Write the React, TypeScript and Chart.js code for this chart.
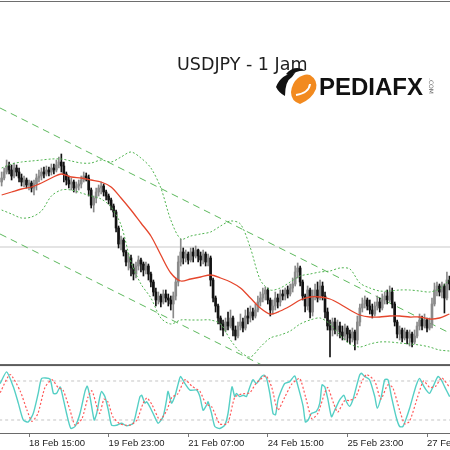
import React, { useEffect, useRef } from 'react';
import { Chart, registerables } from 'chart.js';
Chart.register(...registerables);

// ---------- DATA ----------
const firstOpen = 152.18;
const closes = [
  152.22, 152.28, 152.34, 152.30, 152.24, 152.32, 152.28, 152.22, 152.18, 152.20,
  152.15, 152.17, 152.12, 152.16, 152.22, 152.24, 152.28, 152.26, 152.30, 152.28,
  152.32, 152.30, 152.35, 152.38, 152.34, 152.26, 152.20, 152.16, 152.18, 152.12,
  152.14, 152.16, 152.20, 152.24, 152.22, 152.10, 151.95, 152.02, 152.08, 152.12,
  152.14, 152.08, 152.04, 152.00, 151.94, 151.88, 151.72, 151.56, 151.60, 151.48,
  151.38, 151.42, 151.32, 151.26, 151.34, 151.40, 151.36, 151.30, 151.34, 151.26,
  151.18, 151.08, 151.00, 151.04, 150.98, 151.06, 151.02, 151.00, 150.96, 151.04,
  151.18, 151.38, 151.48, 151.42, 151.46, 151.40, 151.48, 151.44, 151.50, 151.44,
  151.40, 151.46, 151.38, 151.42, 151.20, 151.02, 150.94, 150.82, 150.76, 150.70,
  150.78, 150.74, 150.82, 150.70, 150.64, 150.74, 150.78, 150.72, 150.84, 150.82,
  150.88, 150.84, 150.90, 150.98, 151.02, 151.06, 151.10, 151.00, 150.90, 150.94,
  151.02, 150.98, 151.06, 151.04, 151.10, 151.06, 151.12, 151.16, 151.28, 151.32,
  151.18, 151.04, 150.94, 151.10, 150.88, 151.04, 151.10, 151.02, 151.14, 151.04,
  150.88, 150.74, 150.70, 150.78, 150.70, 150.74, 150.68, 150.64, 150.72, 150.66,
  150.62, 150.68, 150.60, 150.78, 150.92, 150.96, 151.00, 150.94, 150.90, 150.86,
  150.94, 150.98, 150.92, 151.00, 151.04, 151.00, 151.08, 150.96, 150.78, 150.66,
  150.70, 150.62, 150.68, 150.62, 150.66, 150.58, 150.64, 150.74, 150.80, 150.74,
  150.80, 150.72, 150.76, 150.96, 151.10, 151.14, 151.08, 151.14, 151.02, 151.20,
  151.16,
];
const highs = [
  152.28, 152.32, 152.40, 152.38, 152.35, 152.37, 152.35, 152.32, 152.26, 152.24,
  152.22, 152.20, 152.19, 152.20, 152.26, 152.30, 152.32, 152.33, 152.34, 152.33,
  152.36, 152.36, 152.40, 152.43, 152.46, 152.38, 152.28, 152.24, 152.22, 152.20,
  152.18, 152.20, 152.24, 152.28, 152.27, 152.25, 152.12, 152.04, 152.12, 152.15,
  152.18, 152.16, 152.10, 152.06, 152.02, 151.96, 151.90, 151.74, 151.64, 151.62,
  151.50, 151.46, 151.45, 151.36, 151.38, 151.44, 151.42, 151.38, 151.38, 151.36,
  151.28, 151.20, 151.12, 151.08, 151.06, 151.10, 151.10, 151.06, 151.04, 151.08,
  151.22, 151.44, 151.61, 151.52, 151.50, 151.48, 151.52, 151.52, 151.54, 151.51,
  151.48, 151.50, 151.48, 151.46, 151.44, 151.22, 151.04, 150.96, 150.84, 150.80,
  150.82, 150.88, 150.90, 150.84, 150.74, 150.78, 150.86, 150.82, 150.90, 150.92,
  150.94, 150.92, 150.96, 151.04, 151.08, 151.12, 151.13, 151.12, 151.02, 151.00,
  151.08, 151.06, 151.10, 151.10, 151.12, 151.14, 151.16, 151.22, 151.34, 151.37,
  151.34, 151.20, 151.06, 151.14, 151.12, 151.10, 151.16, 151.18, 151.20, 151.18,
  151.08, 150.92, 150.80, 150.82, 150.82, 150.80, 150.78, 150.74, 150.76, 150.74,
  150.70, 150.72, 150.70, 150.84, 150.96, 151.02, 151.04, 151.02, 151.00, 150.96,
  150.98, 151.04, 151.02, 151.06, 151.08, 151.10, 151.14, 151.12, 150.98, 150.80,
  150.74, 150.72, 150.72, 150.70, 150.70, 150.68, 150.70, 150.78, 150.86, 150.84,
  150.86, 150.82, 150.82, 151.02, 151.17, 151.18, 151.16, 151.18, 151.16, 151.28,
  151.24,
];
const lows = [
  152.14, 152.20, 152.26, 152.26, 152.20, 152.22, 152.24, 152.18, 152.14, 152.13,
  152.12, 152.10, 152.08, 152.05, 152.10, 152.18, 152.20, 152.22, 152.24, 152.24,
  152.25, 152.26, 152.28, 152.32, 152.28, 152.18, 152.15, 152.12, 152.10, 152.08,
  152.07, 152.10, 152.12, 152.18, 152.19, 152.04, 151.92, 151.88, 151.97, 152.04,
  152.06, 152.04, 152.00, 151.96, 151.90, 151.83, 151.68, 151.52, 151.50, 151.44,
  151.34, 151.30, 151.24, 151.20, 151.22, 151.30, 151.28, 151.24, 151.26, 151.20,
  151.13, 151.04, 150.94, 150.96, 150.93, 150.96, 150.98, 150.94, 150.90, 150.82,
  151.00, 151.14, 151.34, 151.36, 151.38, 151.36, 151.38, 151.38, 151.42, 151.38,
  151.34, 151.36, 151.34, 151.34, 151.14, 150.98, 150.88, 150.76, 150.70, 150.64,
  150.68, 150.70, 150.72, 150.64, 150.60, 150.62, 150.70, 150.68, 150.70, 150.76,
  150.78, 150.80, 150.82, 150.88, 150.94, 150.98, 151.00, 150.96, 150.84, 150.86,
  150.90, 150.92, 150.94, 151.00, 151.00, 151.02, 151.04, 151.08, 151.14, 151.22,
  151.14, 151.00, 150.88, 150.90, 150.82, 150.84, 151.00, 150.98, 151.00, 151.00,
  150.82, 150.70, 150.43, 150.64, 150.66, 150.64, 150.62, 150.60, 150.60, 150.58,
  150.56, 150.58, 150.50, 150.56, 150.74, 150.88, 150.92, 150.90, 150.86, 150.82,
  150.84, 150.90, 150.88, 150.90, 150.96, 150.96, 150.98, 150.92, 150.74, 150.62,
  150.60, 150.58, 150.60, 150.56, 150.54, 150.53, 150.56, 150.62, 150.70, 150.70,
  150.72, 150.68, 150.70, 150.72, 150.94, 151.04, 151.04, 151.02, 150.87, 151.00,
  151.10,
];

// indicator sample positions (bar index) and values
const bandBars = [
  0, 4, 8, 12, 16, 20, 24, 28, 32, 36, 40, 44, 48, 52, 56, 60, 64, 68, 72, 76, 80, 84, 88,
  92, 96, 100, 104, 108, 112, 116, 120, 124, 128, 132, 136, 140, 144, 148, 152, 156, 160,
  164, 168, 172, 176, 180,
];
const maValues = [
  152.05, 152.08, 152.11, 152.13, 152.17, 152.22, 152.26, 152.23, 152.22, 152.20,
  152.18, 152.13, 152.02, 151.90, 151.77, 151.64, 151.45, 151.27, 151.19, 151.21,
  151.23, 151.25, 151.22, 151.18, 151.12, 151.02, 150.92, 150.86, 150.89, 150.94,
  151.00, 151.03, 151.03, 151.01, 150.96, 150.90, 150.85, 150.83, 150.83, 150.84,
  150.84, 150.83, 150.83, 150.81, 150.82, 150.86,
];
const bbUpper = [
  152.32, 152.36, 152.38, 152.39, 152.40, 152.41, 152.41, 152.39, 152.37, 152.37,
  152.40, 152.38, 152.43, 152.48, 152.42, 152.32, 152.12, 151.80, 151.61, 151.64,
  151.66, 151.68, 151.74, 151.79, 151.76, 151.52, 151.20, 151.10, 151.12, 151.18,
  151.24, 151.26, 151.28, 151.29, 151.32, 151.31, 151.17, 151.12, 151.09, 151.09,
  151.10, 151.10, 151.09, 151.08, 151.11, 151.20,
];
const bbLower = [
  151.90, 151.86, 151.82, 151.83, 151.89, 152.04, 152.10, 152.10, 152.07, 152.04,
  152.01, 151.93, 151.75, 151.38, 151.16, 151.02, 150.82, 150.76, 150.80, 150.80,
  150.80, 150.80, 150.76, 150.60, 150.48, 150.43, 150.53, 150.62, 150.65, 150.69,
  150.76, 150.80, 150.82, 150.76, 150.65, 150.56, 150.53, 150.56, 150.58, 150.58,
  150.57, 150.56, 150.55, 150.53, 150.50, 150.49,
];
const channelBars = [-0.64, 180.1];
const channelUpper = [152.92, 150.67];
const channelLower = [151.66, 149.41];
const levelPrice = 151.53;

const stochKBars = [
  -0.6, 2.0, 4.7, 6.7, 8.7, 10.7, 12.7, 14.7, 16.1, 19.4,
  20.8, 22.1, 23.5, 24.1, 26.1, 27.8, 29.5, 31.5, 33.5, 34.4,
  35.5, 37.2, 38.2, 39.5, 40.2, 41.5, 42.9, 44.2, 46.2, 48.2,
  50.2, 52.9, 54.3, 55.6, 56.3, 57.6, 58.3, 59.6, 60.9, 62.9,
  64.9, 66.3, 66.9, 68.3, 69.6, 71.0, 71.9, 73.7, 75.7, 78.4,
  79.7, 81.0, 82.4, 83.0, 84.4, 85.7, 87.7, 89.7, 91.0, 92.6,
  93.7, 94.4, 95.7, 97.1, 98.4, 99.8, 101.1, 102.4, 104.5, 105.5,
  106.5, 107.8, 109.1, 110.1, 111.1, 112.5, 113.8, 115.8, 117.8, 119.2,
  121.2, 122.1, 123.2, 124.5, 126.5, 127.9, 128.8, 129.9, 131.2, 132.6,
  133.9, 135.9, 137.6, 138.6, 139.9, 141.2, 142.6, 143.9, 144.6, 145.9,
  147.9, 150.0, 151.0, 152.6, 154.0, 155.3, 156.7, 158.7, 160.0, 161.3,
  162.7, 164.0, 165.3, 166.7, 168.0, 169.4, 170.7, 172.0, 173.4, 175.4,
  176.7, 178.1, 180.1,
];
const stochKValues = [
  76, 94, 71, 46, 20, 17, 30, 61, 84, 83,
  61, 61, 71, 64, 30, 7, 10, 30, 64, 72,
  56, 20, 30, 56, 64, 56, 35, 12, 12, 15,
  11, 15, 35, 56, 58, 46, 48, 40, 30, 15,
  25, 51, 64, 46, 56, 76, 87, 76, 66, 66,
  56, 35, 43, 48, 30, 10, 7, 12, 30, 71,
  56, 61, 56, 58, 56, 71, 82, 76, 87, 89,
  84, 61, 30, 28, 51, 66, 76, 79, 88, 71,
  41, 17, 20, 30, 33, 46, 74, 71, 51, 25,
  35, 51, 58, 48, 41, 51, 71, 89, 92, 87,
  82, 56, 38, 56, 82, 82, 56, 23, 10, 10,
  23, 38, 56, 74, 84, 74, 66, 61, 71, 87,
  82, 71, 56,
];
const stochDBars = [
  -0.6, 3.4, 7.4, 10.2, 12.2, 14.6, 17.4, 20.2, 22.7, 24.7,
  27.5, 29.5, 32.3, 34.7, 36.3, 38.7, 39.5, 41.1, 42.7, 44.7,
  47.6, 51.6, 54.4, 56.8, 58.4, 60.4, 63.6, 66.4, 68.4, 70.8,
  73.7, 76.5, 79.7, 82.1, 84.5, 87.7, 90.9, 93.7, 96.5, 99.8,
  102.2, 106.2, 108.6, 111.0, 113.8, 116.6, 119.8, 122.2, 124.7, 127.1,
  129.9, 131.1, 133.5, 135.1, 137.9, 139.9, 142.3, 144.7, 146.7, 150.0,
  152.4, 155.2, 157.2, 160.0, 162.0, 164.0, 167.2, 169.6, 172.1, 174.5,
  176.9, 180.1,
];
const stochDValues = [
  62, 90, 65, 35, 18, 30, 70, 82, 70, 66,
  35, 12, 22, 55, 65, 35, 30, 52, 48, 25,
  14, 12, 20, 45, 54, 44, 20, 35, 55, 60,
  82, 72, 64, 45, 40, 14, 15, 55, 60, 62,
  76, 88, 70, 35, 55, 75, 84, 55, 22, 30,
  62, 70, 45, 32, 50, 50, 55, 78, 90, 80,
  52, 74, 70, 35, 14, 18, 55, 80, 70, 72,
  85, 70,
];
const stochLevels = [80, 20];

const tickBars = [11, 43, 75, 107, 139, 171];
const tickLabels = ['18 Feb 15:00', '19 Feb 23:00', '21 Feb 07:00', '24 Feb 15:00', '25 Feb 23:00', '27 Feb 07:00'];

const titleText = 'USDJPY - 1 Jam';
const brandText = 'PEDIAFX';
const brandSuffix = '.COM';

// ---------- VIEW SETTINGS ----------
const X_MIN = -0.66;
const X_MAX = 180.24;
const PRICE_MIN = 149.67;
const PRICE_MAX = 154.0;
const STOCH_MAX = 666.15;
const SEPARATOR_VALUE = 104.5;

const BULL = '#8a8a8a';
const BEAR = '#121212';

const pts = (xs: number[], ys: number[]) => xs.map((x, i) => ({ x, y: ys[i] }));

const panelClip = {
  id: 'panelClip',
  beforeDatasetDraw(chart: any, args: any) {
    const ds: any = chart.data.datasets[args.index];
    const { ctx, chartArea } = chart;
    const sep = chart.scales.ys.getPixelForValue(SEPARATOR_VALUE);
    ctx.save();
    ctx.beginPath();
    if (ds.panel === 'stoch') {
      ctx.rect(chartArea.left, sep + 1.5, chartArea.right - chartArea.left, chartArea.bottom - sep - 1.5);
    } else {
      ctx.rect(chartArea.left, chartArea.top + 2, chartArea.right - chartArea.left, sep - 1 - chartArea.top - 2);
    }
    ctx.clip();
  },
  afterDatasetDraw(chart: any) {
    chart.ctx.restore();
  },
};

const decorations = {
  id: 'decorations',
  afterDraw(chart: any) {
    const { ctx, chartArea } = chart;
    const sep = chart.scales.ys.getPixelForValue(SEPARATOR_VALUE);
    ctx.save();
    // frame lines
    ctx.fillStyle = '#6e6e6e';
    ctx.fillRect(chartArea.left, chartArea.top + 1, chartArea.right - chartArea.left, 1);
    ctx.fillStyle = '#5c5c5c';
    ctx.fillRect(chartArea.left, sep - 1, chartArea.right - chartArea.left, 2);

    // title
    ctx.fillStyle = '#1e1e1e';
    ctx.font = '17.5px "DejaVu Sans"';
    ctx.textBaseline = 'alphabetic';
    ctx.textAlign = 'left';
    ctx.fillText(titleText, 177, 70);

    // logo mark
    ctx.fillStyle = '#f28a1f';
    ctx.beginPath();
    ctx.moveTo(298, 78);
    ctx.quadraticCurveTo(305, 73, 310, 75);
    ctx.quadraticCurveTo(318, 80, 316, 89);
    ctx.quadraticCurveTo(312, 99, 300, 104);
    ctx.quadraticCurveTo(291, 101, 291, 92);
    ctx.quadraticCurveTo(292, 83, 298, 78);
    ctx.fill();
    ctx.strokeStyle = '#ffffff';
    ctx.lineWidth = 2;
    ctx.beginPath();
    ctx.moveTo(296, 95);
    ctx.quadraticCurveTo(309, 93, 310, 84);
    ctx.stroke();
    ctx.fillStyle = '#111111';
    ctx.beginPath();
    ctx.moveTo(276, 87);
    ctx.quadraticCurveTo(281, 74, 295, 73);
    ctx.lineTo(292, 77);
    ctx.quadraticCurveTo(285, 81, 285, 96);
    ctx.quadraticCurveTo(279, 93, 276, 87);
    ctx.fill();
    ctx.beginPath();
    ctx.moveTo(286, 74);
    ctx.quadraticCurveTo(295, 64, 306, 71);
    ctx.quadraticCurveTo(297, 70, 290, 76);
    ctx.fill();

    // brand text
    ctx.fillStyle = '#111111';
    ctx.font = 'bold 24px "Liberation Sans"';
    ctx.fillText(brandText, 319, 95);
    ctx.save();
    ctx.translate(429, 78);
    ctx.rotate(Math.PI / 2);
    ctx.fillStyle = '#666666';
    ctx.font = '6px "DejaVu Sans"';
    ctx.fillText(brandSuffix, 0, 0);
    ctx.restore();
    ctx.restore();
  },
};

export default function App() {
  const ref = useRef<HTMLCanvasElement>(null);
  useEffect(() => {
    document.body.style.margin = '0';
    const canvas = ref.current;
    if (!canvas) return;
    const opens = closes.map((c, i) => (i === 0 ? firstOpen : closes[i - 1]));
    const up = closes.map((c, i) => c >= opens[i]);
    const wickData = closes.map((c, i) => ({ x: i, y: [lows[i], highs[i]] }));
    const bodyData = closes.map((c, i) => ({ x: i, y: [opens[i], c] }));
    const colors = up.map((u) => (u ? BULL : BEAR));

    const chart = new Chart(canvas, {
      type: 'bar',
      data: {
        datasets: [
          {
            type: 'line', panel: 'main', order: 9, yAxisID: 'y',
            data: [{ x: -1, y: levelPrice }, { x: 182, y: levelPrice }],
            borderColor: '#c9c9c9', borderWidth: 1, pointRadius: 0,
          } as any,
          {
            type: 'line', panel: 'main', order: 8, yAxisID: 'y',
            data: pts(channelBars, channelUpper),
            borderColor: '#5cb85c', borderWidth: 1, borderDash: [7, 5], pointRadius: 0,
          } as any,
          {
            type: 'line', panel: 'main', order: 8, yAxisID: 'y',
            data: pts(channelBars, channelLower),
            borderColor: '#5cb85c', borderWidth: 1, borderDash: [7, 5], pointRadius: 0,
          } as any,
          {
            type: 'bar', panel: 'main', order: 7, yAxisID: 'y',
            data: wickData, backgroundColor: colors, barThickness: 1, grouped: false, borderWidth: 0,
          } as any,
          {
            type: 'bar', panel: 'main', order: 6, yAxisID: 'y',
            data: bodyData, backgroundColor: colors, barThickness: 2, grouped: false, borderWidth: 0, minBarLength: 1,
          } as any,
          {
            type: 'line', panel: 'main', order: 5, yAxisID: 'y',
            data: pts(bandBars, bbUpper),
            borderColor: '#4fb34f', borderWidth: 1, borderDash: [2, 2], pointRadius: 0, tension: 0.3,
          } as any,
          {
            type: 'line', panel: 'main', order: 5, yAxisID: 'y',
            data: pts(bandBars, bbLower),
            borderColor: '#4fb34f', borderWidth: 1, borderDash: [2, 2], pointRadius: 0, tension: 0.3,
          } as any,
          {
            type: 'line', panel: 'main', order: 4, yAxisID: 'y',
            data: pts(bandBars, maValues),
            borderColor: '#e5462c', borderWidth: 1.3, pointRadius: 0, tension: 0.3,
          } as any,
          ...stochLevels.map((lv) => ({
            type: 'line', panel: 'stoch', order: 3, yAxisID: 'ys',
            data: [{ x: -1, y: lv }, { x: 182, y: lv }],
            borderColor: '#c4c4c4', borderWidth: 1, borderDash: [3, 3], pointRadius: 0,
          } as any)),
          {
            type: 'line', panel: 'stoch', order: 2, yAxisID: 'ys',
            data: pts(stochKBars, stochKValues),
            borderColor: '#55cfc5', borderWidth: 1.4, pointRadius: 0, tension: 0.2,
          } as any,
          {
            type: 'line', panel: 'stoch', order: 1, yAxisID: 'ys',
            data: pts(stochDBars, stochDValues),
            borderColor: '#ff5a5a', borderWidth: 1.2, borderDash: [2, 2], pointRadius: 0, tension: 0.2,
          } as any,
        ],
      },
      options: {
        responsive: false,
        animation: false,
        devicePixelRatio: 1,
        layout: { padding: 0 },
        plugins: { legend: { display: false }, tooltip: { enabled: false }, title: { display: false } },
        scales: {
          x: {
            type: 'linear',
            min: X_MIN,
            max: X_MAX,
            offset: false,
            afterBuildTicks: (s: any) => {
              s.ticks = tickBars.map((v) => ({ value: v }));
            },
            afterFit: (s: any) => {
              s.height = 17;
              s.paddingLeft = 0;
              s.paddingRight = 0;
            },
            ticks: {
              autoSkip: false,
              maxRotation: 0,
              minRotation: 0,
              align: 'start',
              padding: 1,
              color: '#222222',
              font: { family: '"Liberation Sans"', size: 9.5 },
              callback: (_v: any, i: number) => tickLabels[i] ?? '',
            },
            grid: { drawOnChartArea: false, drawTicks: true, tickLength: 4, color: '#777777', offset: false },
            border: { display: true, color: '#6a6a6a', width: 1 },
          },
          y: { type: 'linear', display: false, min: PRICE_MIN, max: PRICE_MAX },
          ys: { type: 'linear', display: false, min: 0, max: STOCH_MAX },
        },
      } as any,
      plugins: [panelClip, decorations],
    });
    return () => chart.destroy();
  }, []);
  return (
    <div style={{ width: 450, height: 450 }}>
      <canvas ref={ref} width={450} height={450} style={{ display: 'block' }} />
    </div>
  );
}
